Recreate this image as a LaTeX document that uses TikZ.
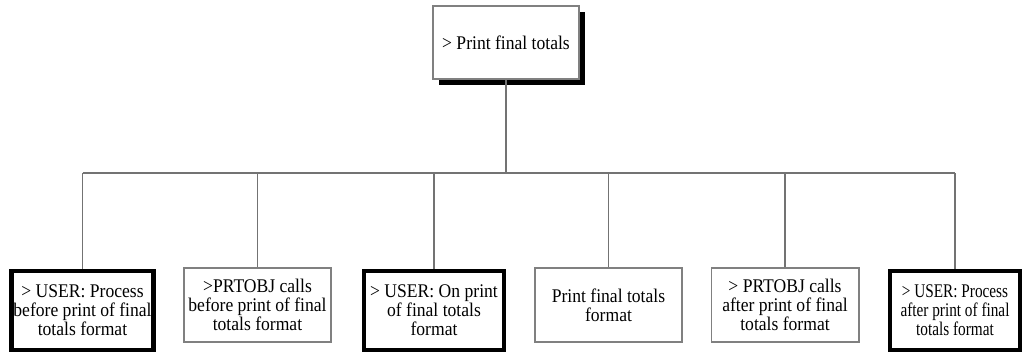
\documentclass[tikz,border=0pt]{standalone}
\usepackage{fontspec}
\setmainfont{Liberation Serif}[FakeStretch=0.91]
\newfontfamily\narrowserif[FakeStretch=0.79]{Liberation Serif}
\usetikzlibrary{shadows}
\tikzset{
	wire/.style={draw=black!55, line width=0.6pt},
	plainbox/.style={draw=black!50, line width=0.6pt, fill=white, align=center,
		font=\fontsize{11}{10.8}\selectfont, inner sep=1pt},
	userbox/.style={plainbox, draw=black, line width=2.8pt},
	topbox/.style={plainbox, minimum width=2.92cm, minimum height=1.46cm,
		drop shadow={shadow xshift=0.12cm, shadow yshift=-0.12cm, fill=black, opacity=1}}
}

\begin{document}
\begin{tikzpicture}[x=0.02cm, y=-0.02cm]
	\useasboundingbox (0,0) rectangle (1023,354);
	% root of the tree
	\node[topbox] (top) at (506,42.5) {> Print final totals};
	% the six steps
	\node[userbox, minimum width=2.78cm, minimum height=1.58cm] (userbefore) at (82.5,310.5)
		{> USER: Process\\before print of final\\totals format};
	\node[plainbox, minimum width=2.94cm, minimum height=1.48cm] (prtbefore) at (257.5,305)
		{>PRTOBJ calls\\before print of final\\totals format};
	\node[userbox, minimum width=2.8cm, minimum height=1.58cm] (useron) at (434,310.5)
		{> USER: On print\\of final totals\\format};
	\node[plainbox, minimum width=2.94cm, minimum height=1.48cm] (printfmt) at (608.5,305)
		{Print final totals\\format};
	\node[plainbox, minimum width=2.96cm, minimum height=1.48cm] (prtafter) at (785,305)
		{> PRTOBJ calls\\after print of final\\totals format};
	\node[userbox, minimum width=2.6cm, minimum height=1.58cm, font=\narrowserif\fontsize{11}{10.8}\selectfont] (userafter) at (955,310.5)
		{> USER: Process\\after print of final\\totals format};
	% connectors
	\coordinate (bus) at (506,173);
	\draw[wire] (top.south) -- (bus);
	\draw[wire] (userbefore.north |- bus) -- (userafter.north |- bus);
	\foreach \b in {userbefore,prtbefore,useron,printfmt,prtafter,userafter}
		\draw[wire] (\b.north) -- (\b.north |- bus);
\end{tikzpicture}
\end{document}
